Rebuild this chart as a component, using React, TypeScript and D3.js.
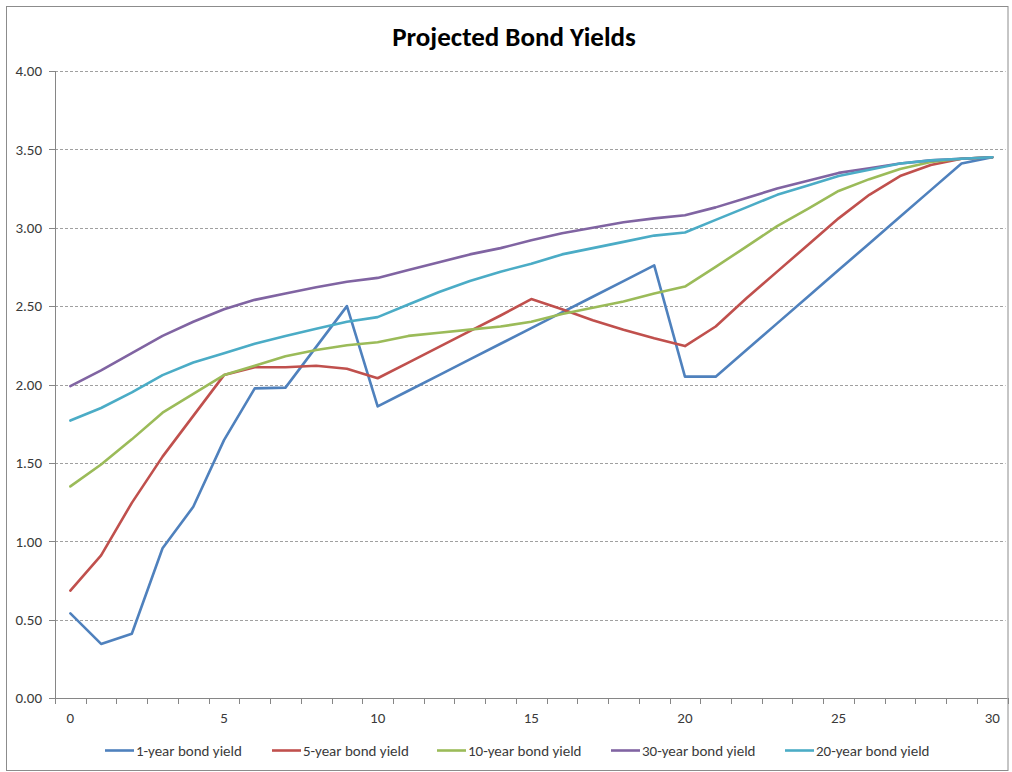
import React from "react";
import * as d3 from "d3";

// Projection horizon in years (0..30)
const years: number[] = d3.range(0, 31);

const oneYear: number[] = [
  0.54, 0.345, 0.41, 0.955, 1.22, 1.645, 1.975, 1.98, 2.24, 2.5,
  1.86, 1.96, 2.06, 2.16, 2.26, 2.36, 2.46, 2.56, 2.66, 2.76,
  2.05, 2.05, 2.22, 2.39, 2.56, 2.73, 2.9, 3.07, 3.24, 3.41, 3.45,
];
const fiveYear: number[] = [
  0.685, 0.91, 1.245, 1.54, 1.8, 2.06, 2.11, 2.11, 2.12, 2.1,
  2.04, 2.14, 2.24, 2.34, 2.44, 2.545, 2.48, 2.41, 2.35, 2.295,
  2.245, 2.37, 2.55, 2.72, 2.89, 3.06, 3.21, 3.33, 3.4, 3.44, 3.45,
];
const tenYear: number[] = [
  1.35, 1.49, 1.65, 1.82, 1.94, 2.06, 2.12, 2.18, 2.22, 2.25,
  2.27, 2.31, 2.33, 2.35, 2.37, 2.4, 2.45, 2.49, 2.53, 2.58,
  2.625, 2.75, 2.88, 3.01, 3.12, 3.235, 3.31, 3.375, 3.42, 3.44, 3.45,
];
const thirtyYear: number[] = [
  1.99, 2.09, 2.2, 2.31, 2.4, 2.48, 2.54, 2.58, 2.62, 2.655,
  2.68, 2.73, 2.78, 2.83, 2.87, 2.92, 2.965, 3.0, 3.035, 3.06,
  3.08, 3.13, 3.19, 3.25, 3.3, 3.35, 3.38, 3.41, 3.43, 3.44, 3.45,
];
const twentyYear: number[] = [
  1.77, 1.85, 1.95, 2.06, 2.14, 2.2, 2.26, 2.31, 2.355, 2.4,
  2.43, 2.51, 2.59, 2.66, 2.72, 2.77, 2.83, 2.87, 2.91, 2.95,
  2.97, 3.05, 3.13, 3.21, 3.27, 3.33, 3.37, 3.41, 3.43, 3.44, 3.45,
];

const seriesNames: string[] = [
  "1-year bond yield",
  "5-year bond yield",
  "10-year bond yield",
  "30-year bond yield",
  "20-year bond yield",
];
const seriesValues: number[][] = [oneYear, fiveYear, tenYear, thirtyYear, twentyYear];
const seriesColors: string[] = ["#4F81BD", "#C0504D", "#9BBB59", "#8064A2", "#4BACC6"];

const yTicks: number[] = [0, 0.5, 1, 1.5, 2, 2.5, 3, 3.5, 4];
const xLabelYears: number[] = [0, 5, 10, 15, 20, 25, 30];

const W = 1012;
const H = 772;
const plot = { left: 55, right: 1007.6, top: 71, bottom: 698 };
const FONT = "Carlito, Calibri, Lato, 'Open Sans', sans-serif";

export default function App() {
  // Category axis: each year occupies one band, point sits at band centre
  const band = d3
    .scaleBand<number>()
    .domain(years)
    .range([plot.left, plot.right])
    .paddingInner(0)
    .paddingOuter(0);
  const xc = (i: number) => (band(i) as number) + band.bandwidth() / 2;
  const y = d3.scaleLinear().domain([0, 4]).range([plot.bottom, plot.top]);

  const line = d3
    .line<number>()
    .x((_, i) => xc(years[i]))
    .y((d) => y(d));

  const tickXs = d3.range(0, years.length + 1).map((k) => plot.left + k * band.bandwidth());

  const legendX: number[] = [105, 272, 437, 611, 785];

  return (
    <svg
      width={W}
      height={H}
      style={{ position: "absolute", left: 0, top: 0, background: "#fff" }}
      fontFamily={FONT}
    >
      <rect x={0} y={0} width={W} height={H} fill="#fff" />
      <rect x={6.5} y={6.5} width={1001.5} height={764} fill="#fff" stroke="#8c8c8c" strokeWidth={1} />

      <text x={514} y={46} textAnchor="middle" fontSize={27} fontWeight="bold" fill="#000">
        Projected Bond Yields
      </text>

      {/* horizontal gridlines */}
      {yTicks.filter((t) => t > 0).map((t) => (
        <line
          key={"g" + t}
          x1={plot.left}
          x2={plot.right - 2}
          y1={Math.round(y(t)) + 0.5}
          y2={Math.round(y(t)) + 0.5}
          stroke="#a0a0a0"
          strokeWidth={1}
          strokeDasharray="3,2"
        />
      ))}

      {/* y axis */}
      <line x1={plot.left + 0.5} x2={plot.left + 0.5} y1={plot.top} y2={plot.bottom} stroke="#868686" />
      {yTicks.map((t) => (
        <g key={"y" + t}>
          <line
            x1={plot.left - 6}
            x2={plot.left}
            y1={Math.round(y(t)) + 0.5}
            y2={Math.round(y(t)) + 0.5}
            stroke="#868686"
          />
          <text x={42} y={y(t)} dy="0.35em" textAnchor="end" fontSize={15} fill="#3a3a3a">
            {d3.format(".2f")(t)}
          </text>
        </g>
      ))}

      {/* x axis */}
      <line
        x1={plot.left}
        x2={plot.right}
        y1={Math.round(y(0)) + 0.5}
        y2={Math.round(y(0)) + 0.5}
        stroke="#868686"
      />
      {tickXs.map((tx, k) => (
        <line
          key={"xt" + k}
          x1={Math.round(tx) + 0.5}
          x2={Math.round(tx) + 0.5}
          y1={Math.round(y(0))}
          y2={Math.round(y(0)) + 6}
          stroke="#868686"
        />
      ))}
      {xLabelYears.map((v) => (
        <text key={"xl" + v} x={xc(v)} y={723} textAnchor="middle" fontSize={15} fill="#3a3a3a">
          {v}
        </text>
      ))}

      {/* series */}
      {seriesValues.map((vals, si) => (
        <path
          key={"s" + si}
          d={line(vals) as string}
          fill="none"
          stroke={seriesColors[si]}
          strokeWidth={2.6}
          strokeLinejoin="round"
          strokeLinecap="round"
        />
      ))}

      {/* legend */}
      {seriesNames.map((name, si) => (
        <g key={"l" + si}>
          <line
            x1={legendX[si]}
            x2={legendX[si] + 29}
            y1={750.5}
            y2={750.5}
            stroke={seriesColors[si]}
            strokeWidth={2.6}
          />
          <text x={legendX[si] + 31} y={750.5} dy="0.35em" fontSize={15} fill="#3a3a3a">
            {name}
          </text>
        </g>
      ))}
    </svg>
  );
}
